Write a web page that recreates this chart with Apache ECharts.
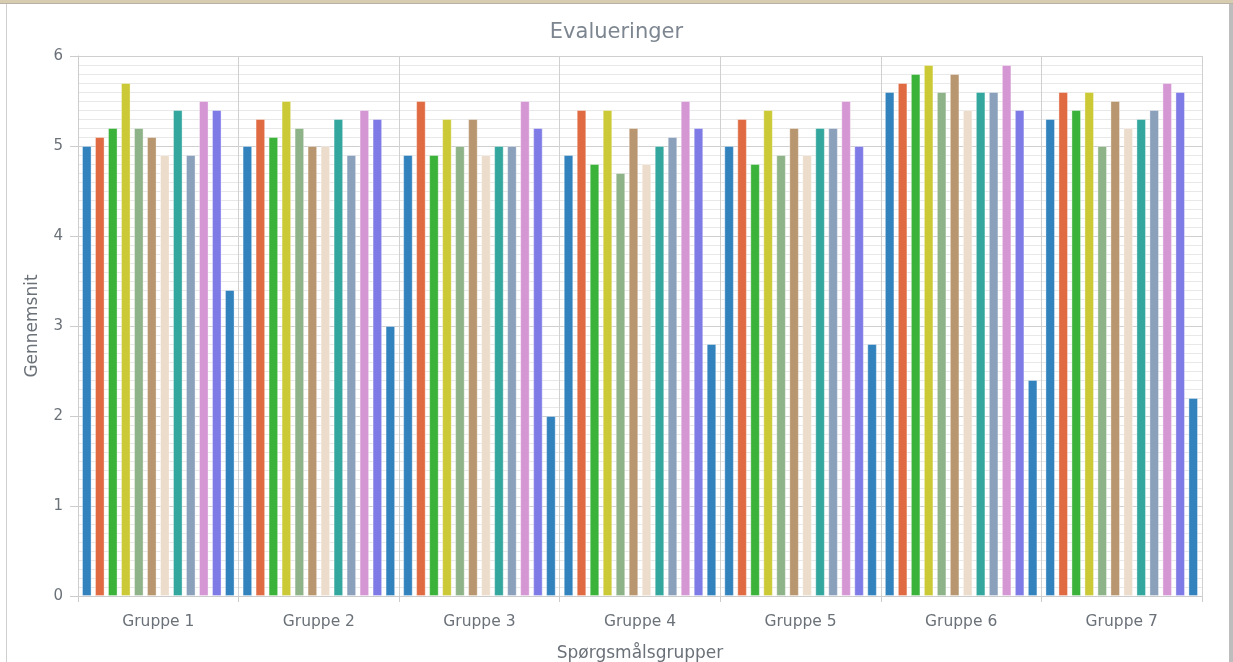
<!DOCTYPE html>
<html>
<head>
<meta charset="utf-8">
<script src="https://cdn.jsdelivr.net/npm/echarts@6/dist/echarts.min.js"></script>
<style>
  html, body { margin: 0; padding: 0; background: #fff; }
  #frame { position: absolute; left: 0; top: 0; width: 1233px; height: 662px; }
  #topband { position: absolute; left: 0; top: 0; width: 1233px; height: 3px; background: #d7cbb2; border-bottom: 1px solid #b9b2a4; }
  #leftline { position: absolute; left: 6px; top: 4px; width: 1px; height: 658px; background: #cfcfcf; }
  #rightline { position: absolute; left: 1229px; top: 4px; width: 4px; height: 658px; background: #bdbdbd; }
  #chart { position: absolute; left: 0; top: 0; width: 1233px; height: 662px; }
</style>
</head>
<body>
<div id="frame">
  <div id="chart"></div>
  <div id="topband"></div>
  <div id="leftline"></div>
  <div id="rightline"></div>
</div>
<script>
const categories = ['Gruppe 1', 'Gruppe 2', 'Gruppe 3', 'Gruppe 4', 'Gruppe 5', 'Gruppe 6', 'Gruppe 7'];
const yTicks = [0, 1, 2, 3, 4, 5, 6];

const s1  = [5.0, 5.0, 4.9, 4.9, 5.0, 5.6, 5.3];
const s2  = [5.1, 5.3, 5.5, 5.4, 5.3, 5.7, 5.6];
const s3  = [5.2, 5.1, 4.9, 4.8, 4.8, 5.8, 5.4];
const s4  = [5.7, 5.5, 5.3, 5.4, 5.4, 5.9, 5.6];
const s5  = [5.2, 5.2, 5.0, 4.7, 4.9, 5.6, 5.0];
const s6  = [5.1, 5.0, 5.3, 5.2, 5.2, 5.8, 5.5];
const s7  = [4.9, 5.0, 4.9, 4.8, 4.9, 5.4, 5.2];
const s8  = [5.4, 5.3, 5.0, 5.0, 5.2, 5.6, 5.3];
const s9  = [4.9, 4.9, 5.0, 5.1, 5.2, 5.6, 5.4];
const s10 = [5.5, 5.4, 5.5, 5.5, 5.5, 5.9, 5.7];
const s11 = [5.4, 5.3, 5.2, 5.2, 5.0, 5.4, 5.6];
const s12 = [3.4, 3.0, 2.0, 2.8, 2.8, 2.4, 2.2];

const seriesValues = [s1, s2, s3, s4, s5, s6, s7, s8, s9, s10, s11, s12];
const palette = ['#3182bd', '#e06a42', '#3bb23a', '#cbc935', '#8fb388', '#b8966f', '#ecdccb', '#33a69e', '#8aa0bb', '#d597d4', '#7f7be6'];

const font = 'DejaVu Sans, Verdana, sans-serif';
const chart = echarts.init(document.getElementById('chart'), null, { renderer: 'canvas' });

chart.setOption({
  animation: false,
  color: palette,
  title: {
    text: 'Evalueringer',
    left: 'center',
    top: 17,
    textStyle: { fontFamily: font, fontSize: 21, fontWeight: 'normal', color: '#7d8690' }
  },
  grid: { left: 78, right: 31, top: 56, bottom: 66, containLabel: false, outerBoundsMode: 'none' },
  xAxis: {
    type: 'category',
    data: categories,
    name: 'Spørgsmålsgrupper',
    nameLocation: 'middle',
    nameGap: 49,
    nameTextStyle: { fontFamily: font, fontSize: 17, color: '#6b7178' },
    axisLine: { show: true, lineStyle: { color: '#cccccc' } },
    axisTick: { show: true, length: 6, lineStyle: { color: '#cccccc' } },
    axisLabel: { fontFamily: font, fontSize: 15.5, color: '#6b7178', margin: 18 },
    splitLine: { show: true, lineStyle: { color: '#d0d0d0', width: 1 } }
  },
  yAxis: {
    type: 'value',
    min: yTicks[0],
    max: yTicks[yTicks.length - 1],
    interval: 1,
    name: 'Gennemsnit',
    nameLocation: 'middle',
    nameGap: 37,
    nameTextStyle: { fontFamily: font, fontSize: 17, color: '#6b7178' },
    axisLine: { show: true, lineStyle: { color: '#cccccc' } },
    axisTick: { show: true, length: 8, lineStyle: { color: '#cccccc' } },
    axisLabel: { fontFamily: font, fontSize: 15, color: '#6b7178', margin: 15 },
    splitLine: { show: true, lineStyle: { color: '#cfcfcf', width: 1 } },
    minorTick: { show: false, splitNumber: 10 },
    minorSplitLine: { show: true, lineStyle: { color: '#e8e8e8', width: 1 } }
  },
  series: seriesValues.map((vals, i) => ({
    name: 'Serie ' + (i + 1),
    type: 'bar',
    data: vals,
    barGap: '36%',
    barCategoryGap: '5%',
    itemStyle: { borderColor: 'rgba(255,255,255,0.35)', borderWidth: 1 }
  }))
});
</script>
</body>
</html>
